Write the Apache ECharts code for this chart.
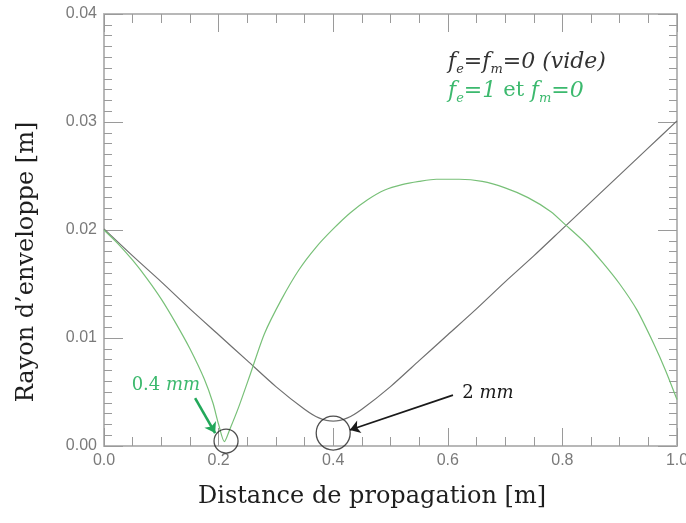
<!DOCTYPE html>
<html><head><meta charset="utf-8">
<script src="https://cdn.jsdelivr.net/npm/echarts@6/dist/echarts.min.js"></script>
<style>html,body{margin:0;padding:0;background:#fff}#c{width:686px;height:523px}</style>
</head><body><div id="c"></div>
<script>
// Vacuum case (f_e = f_m = 0)
const vacX = [0, 0.05, 0.10, 0.15, 0.20, 0.25, 0.30, 0.35, 0.375, 0.40, 0.425, 0.45, 0.50, 0.55, 0.60, 0.65, 0.70, 0.75, 0.80, 0.85, 0.90, 0.95, 1.00];
const vacY = [0.0201, 0.0176, 0.0152, 0.0127, 0.0103, 0.0079, 0.0055, 0.0034, 0.0026, 0.0023, 0.0026, 0.0034, 0.0055, 0.0079, 0.0103, 0.0127, 0.0152, 0.0176, 0.0201, 0.0226, 0.0251, 0.0276, 0.0301];
// f_e = 1, f_m = 0
const greenX = [0, 0.025, 0.05, 0.075, 0.10, 0.125, 0.15, 0.175, 0.19, 0.20, 0.21, 0.22, 0.235, 0.255, 0.28, 0.31, 0.34, 0.37, 0.40, 0.43, 0.46, 0.49, 0.52, 0.55, 0.58, 0.62, 0.66, 0.70, 0.74, 0.78, 0.805, 0.84, 0.87, 0.90, 0.93, 0.96, 0.98, 1.00];
const greenY = [0.0200, 0.0187, 0.0172, 0.0155, 0.0136, 0.0114, 0.0090, 0.0062, 0.0040, 0.0020, 0.0004, 0.0016, 0.0036, 0.0066, 0.0104, 0.0136, 0.0163, 0.0184, 0.0201, 0.0216, 0.0228, 0.0237, 0.0242, 0.0245, 0.0247, 0.0247, 0.0245, 0.0239, 0.0230, 0.0217, 0.0205, 0.0188, 0.0170, 0.0150, 0.0126, 0.0094, 0.0070, 0.0043];
// annotation circles (minimum waists)
const circleX = [0.213, 0.40];
const circleY = [0.00046, 0.0012];
// arrows: [x1, y1, x2, y2]
const greenArrow = [0.159, 0.00444, 0.194, 0.0012];
const blackArrow = [0.609, 0.00472, 0.429, 0.00148];
// annotation labels
const noteGreen = {x: 0.108, y: 0.00565, num: '0.4', unit: 'mm'};
const noteBlack = {x: 0.670, y: 0.0049, num: '2', unit: 'mm'};
const xTickFmt = v => v.toFixed(1);
const yTickFmt = v => v.toFixed(2);

const pairs = (xs, ys) => xs.map((x, i) => [x, ys[i]]);
const tickLabel = {color: '#7a7a7a', fontSize: 16, fontFamily: 'Liberation Sans'};
const axisLineStyle = {color: '#b8b8b8', width: 2};
const tickStyle = {color: '#9a9a9a', width: 1};

function xAx(pos, labels) {
  return {type: 'value', min: 0, max: 1, interval: 0.2, position: pos,
    axisLine: {show: true, onZero: false, lineStyle: axisLineStyle},
    axisTick: {show: true, inside: true, length: 18, lineStyle: tickStyle},
    minorTick: {show: true, splitNumber: 4, length: 9, lineStyle: tickStyle},
    splitLine: {show: false}, minorSplitLine: {show: false},
    axisLabel: Object.assign({show: labels, formatter: xTickFmt, margin: 7}, tickLabel)};
}
function yAx(pos, labels) {
  return {type: 'value', min: 0, max: 0.04, interval: 0.01, position: pos,
    axisLine: {show: true, onZero: false, lineStyle: axisLineStyle},
    axisTick: {show: true, inside: true, length: 19, lineStyle: tickStyle},
    minorTick: {show: true, splitNumber: 10, length: 8, lineStyle: tickStyle},
    splitLine: {show: false}, minorSplitLine: {show: false},
    axisLabel: Object.assign({show: labels, formatter: yTickFmt, margin: 7}, tickLabel)};
}

const chart = echarts.init(document.getElementById('c'), null, {renderer: 'canvas'});
function legendRich(color) {
  const base = {fontFamily: 'DejaVu Serif', lineHeight: 25, color: color, fill: color};
  return {
    m: Object.assign({}, base, {fontSize: 22, fontStyle: 'italic', verticalAlign: 'top'}),
    s: Object.assign({}, base, {fontSize: 13, fontStyle: 'italic', verticalAlign: 'bottom'}),
    u: Object.assign({}, base, {fontSize: 21, verticalAlign: 'top'})
  };
}
chart.setOption({
  animation: false,
  grid: {left: 104, right: 9, top: 14, bottom: 77, outerBoundsMode: 'none', containLabel: false},
  xAxis: [xAx('bottom', true), xAx('top', false)],
  yAxis: [yAx('left', true), yAx('right', false)],
  series: [
    {type: 'line', data: pairs(vacX, vacY), symbol: 'none', smooth: 0.25,
     lineStyle: {color: '#6f6f6f', width: 1.2}, z: 3},
    {type: 'line', data: pairs(greenX, greenY), symbol: 'none', smooth: 0.25,
     lineStyle: {color: '#78c078', width: 1.2}, z: 3},
    {type: 'scatter', data: pairs(circleX, circleY), symbol: 'circle',
     symbolSize: (v, p) => p.dataIndex === 0 ? 24 : 34,
     itemStyle: {color: 'rgba(0,0,0,0)', borderColor: '#222', borderWidth: 1.3}, z: 4,
     markLine: {silent: true, symbol: ['none', 'arrow'], symbolSize: 10, label: {show: false},
       data: [
         [{coord: [greenArrow[0], greenArrow[1]], lineStyle: {color: '#22a85a', width: 2.6, type: 'solid'}},
          {coord: [greenArrow[2], greenArrow[3]]}],
         [{coord: [blackArrow[0], blackArrow[1]], lineStyle: {color: '#1a1a1a', width: 1.8, type: 'solid'}},
          {coord: [blackArrow[2], blackArrow[3]]}]
       ]},
     markPoint: {silent: true, symbol: 'circle', symbolSize: 0,
       data: [
         {coord: [noteGreen.x, noteGreen.y], label: {show: true, position: 'inside',
           formatter: '{a|' + noteGreen.num + ' }{b|' + noteGreen.unit + '}',
           rich: {a: {fontFamily: 'DejaVu Serif', fontSize: 18, color: '#3cb96e'},
                  b: {fontFamily: 'DejaVu Serif', fontStyle: 'italic', fontSize: 18, color: '#3cb96e'}}}},
         {coord: [noteBlack.x, noteBlack.y], label: {show: true, position: 'inside',
           formatter: '{a|' + noteBlack.num + ' }{b|' + noteBlack.unit + '}',
           rich: {a: {fontFamily: 'DejaVu Serif', fontSize: 18, color: '#1a1a1a'},
                  b: {fontFamily: 'DejaVu Serif', fontStyle: 'italic', fontSize: 18, color: '#1a1a1a'}}}}
       ]}
    }
  ],
  graphic: [
    {type: 'text', left: 448, top: 51, z: 10,
     style: {text: '{m|f}{s|e}{m|=f}{s|m}{m|=0 (vide)}', rich: legendRich('#333333'), fill: '#333333'}},
    {type: 'text', left: 448, top: 80, z: 10,
     style: {text: '{m|f}{s|e}{m|=1 }{u|et }{m|f}{s|m}{m|=0}', rich: legendRich('#3cb96e'), fill: '#3cb96e'}},
    {type: 'text', x: 27, y: 262, rotation: Math.PI / 2, z: 10,
     style: {text: "Rayon d\u2019enveloppe [m]", fontFamily: 'DejaVu Serif', fontSize: 24, fill: '#1e1e1e',
             align: 'center', verticalAlign: 'middle'}},
    {type: 'text', x: 372, y: 497, z: 10,
     style: {text: 'Distance de propagation [m]', fontFamily: 'DejaVu Serif', fontSize: 24, fill: '#1e1e1e',
             align: 'center', verticalAlign: 'middle'}}
  ]
});
</script></body></html>
